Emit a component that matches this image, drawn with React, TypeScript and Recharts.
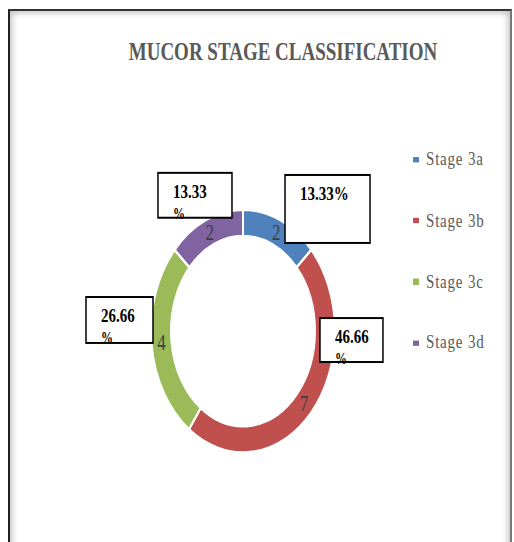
import React from "react";
import { PieChart, Pie, Cell, Legend } from "recharts";

const stages = ["Stage 3a", "Stage 3b", "Stage 3c", "Stage 3d"];
const counts = [2, 7, 4, 2];
const percentLabels = ["13.33%", "46.66%", "26.66%", "13.33%"];
const colors = ["#4F81BD", "#C0504D", "#9BBB59", "#8064A2"];

// callout boxes, placed relative to the outer edge of each slice (unstretched px)
const callouts = [
  { dx: 4.6, dy: -34.2, w: 85, h: 51.5, wrap: false },
  { dx: 8.6, dy: -71.4, w: 63, h: 33.3, wrap: true },
  { dx: -65.5, dy: -35.4, w: 67, h: 34.8, wrap: true },
  { dx: -47.6, dy: -35.8, w: 74, h: 34, wrap: true },
];

const STRETCH = 1.32;
const W = 514;
const H = 411;
const FONT = "'Liberation Serif', serif";
const RADIAN = Math.PI / 180;

const data = stages.map((name, i) => ({ name, value: counts[i] }));

function renderLabel(props: any) {
  const { cx, cy, midAngle, innerRadius, outerRadius, index, value } = props;
  const mid = (innerRadius + outerRadius) / 2;
  const lx = cx + mid * Math.cos(-midAngle * RADIAN);
  const ly = cy + mid * Math.sin(-midAngle * RADIAN);
  const ox = cx + outerRadius * Math.cos(-midAngle * RADIAN);
  const oy = cy + outerRadius * Math.sin(-midAngle * RADIAN);
  const c = callouts[index];
  const bx = ox + c.dx;
  const by = oy + c.dy;
  const pct = percentLabels[index];
  const lines = c.wrap ? [pct.replace("%", ""), "%"] : [pct];
  return (
    <g key={`lbl-${index}`}>
      <text
        x={lx}
        y={ly}
        textAnchor="middle"
        dominantBaseline="central"
        fontFamily={FONT}
        fontSize={17}
        fill="#404040"
      >
        {value}
      </text>
      <rect x={bx} y={by} width={c.w} height={c.h} fill="#fff" stroke="#000" strokeWidth={1.5} />
      {lines.map((t, k) => (
        <text
          key={k}
          x={bx + 15}
          y={by + 19 + k * 16}
          fontFamily={FONT}
          fontWeight="bold"
          fontSize={k === 0 ? 15 : 12}
          fill="#000"
        >
          {t}
        </text>
      ))}
    </g>
  );
}

function LegendBox() {
  return (
    <div style={{ fontFamily: FONT, fontSize: 15, letterSpacing: 0.8, color: "#595959" }}>
      {stages.map((s, i) => (
        <div key={s} style={{ height: 46.3, display: "flex", alignItems: "center" }}>
          <span style={{ display: "inline-block", width: 6, height: 4.5, background: colors[i], marginRight: 7 }} />
          <span>{s}</span>
        </div>
      ))}
    </div>
  );
}

export default function App() {
  return (
    <div style={{ position: "absolute", left: 0, top: 0, width: W, height: 542, background: "#fff", overflow: "hidden" }}>
      <div
        style={{
          position: "absolute",
          left: 8,
          top: 9,
          width: 500,
          height: 540,
          borderLeft: "2px solid #222",
          borderTop: "2px solid #333",
          borderRight: "2px solid #777",
          boxShadow: "inset 0 0 6px 2px rgba(0,0,0,0.25)",
        }}
      />
      <div style={{ position: "absolute", left: 0, top: 0, width: W, height: H, transform: `scaleY(${STRETCH})`, transformOrigin: "0 0" }}>
        <PieChart width={W} height={H} margin={{ top: 0, right: 0, bottom: 0, left: 0 }}>
          <text x={283} y={45.5} textAnchor="middle" fontFamily={FONT} fontWeight="bold" fontSize={19} fill="#595959">
            MUCOR STAGE CLASSIFICATION
          </text>
          <Pie
            data={data}
            dataKey="value"
            nameKey="name"
            cx={243}
            cy={250.8}
            innerRadius={72}
            outerRadius={92}
            startAngle={90}
            endAngle={-270}
            stroke="#fff"
            strokeWidth={2}
            label={renderLabel}
            labelLine={false}
            isAnimationActive={false}
          >
            {data.map((d, i) => (
              <Cell key={d.name} fill={colors[i]} />
            ))}
          </Pie>
          <Legend
            layout="vertical"
            align="right"
            verticalAlign="top"
            content={() => <LegendBox />}
            wrapperStyle={{ left: 413, top: 97.8, width: 95 }}
          />
        </PieChart>
      </div>
    </div>
  );
}
